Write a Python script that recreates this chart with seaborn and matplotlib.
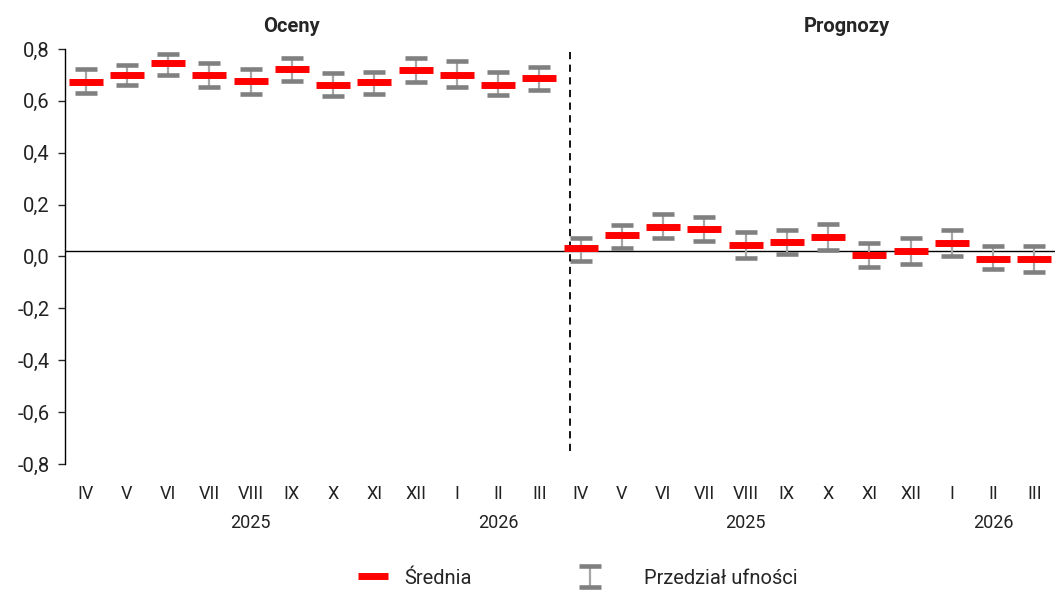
import numpy as np
import pandas as pd
import seaborn as sns
import matplotlib.pyplot as plt
import matplotlib.transforms as mtransforms
from matplotlib.lines import Line2D

months = ["IV", "V", "VI", "VII", "VIII", "IX", "X", "XI", "XII", "I", "II", "III"]
month_labels = months + months
years = ["2025", "2026", "2025", "2026"]
year_pos = [4, 10, 16, 22]

# oceny (estimates) - mean, lower, upper
oceny_mean = [0.671, 0.701, 0.744, 0.698, 0.675, 0.721, 0.663, 0.671, 0.717, 0.701, 0.663, 0.690]
oceny_low = [0.632, 0.663, 0.701, 0.652, 0.628, 0.675, 0.617, 0.625, 0.671, 0.652, 0.621, 0.640]
oceny_high = [0.721, 0.740, 0.782, 0.744, 0.721, 0.767, 0.709, 0.713, 0.767, 0.752, 0.713, 0.732]

# prognozy (forecasts)
progn_mean = [0.033, 0.082, 0.113, 0.105, 0.044, 0.055, 0.075, 0.005, 0.021, 0.052, -0.010, -0.010]
progn_low = [-0.018, 0.032, 0.071, 0.059, -0.006, 0.009, 0.025, -0.041, -0.029, 0.002, -0.048, -0.060]
progn_high = [0.071, 0.121, 0.163, 0.152, 0.094, 0.102, 0.125, 0.052, 0.071, 0.102, 0.040, 0.040]

sns.set_style("white")
plt.rcParams["font.family"] = ["Roboto", "DejaVu Sans"]

df = pd.DataFrame({
    "x": np.arange(24),
    "mean": oceny_mean + progn_mean,
    "low": oceny_low + progn_low,
    "high": oceny_high + progn_high,
})

fig = plt.figure(figsize=(10.56, 5.90), dpi=100)
ax = fig.add_axes([0.0616, 0.2136, 0.9375, 0.7034])

# confidence intervals
err = [df["mean"] - df["low"], df["high"] - df["mean"]]
eb = ax.errorbar(df["x"], df["mean"], yerr=err, fmt="none", ecolor="#808080",
                 elinewidth=1.6, capsize=8, capthick=3.3, zorder=2,
                 label="Przedział ufności")
for lc in eb[2]:
    lc.set_color("#a6a6a6")

# means
sns.scatterplot(data=df, x="x", y="mean", marker="_", s=24 ** 2, linewidth=5,
                color="#ff0000", ax=ax, zorder=3, legend=False)
for coll in ax.collections:
    coll.set_capstyle("butt")

ax.axhline(0.022, color="black", lw=1, zorder=1)
ax.vlines(11.75, -0.75, 0.79, colors="black", linestyles=(0, (4, 3)), lw=1.3)

ax.set_xlim(-0.5, 23.5)
ax.set_ylim(-0.8, 0.8)
yt = np.arange(-0.8, 0.81, 0.2)
ax.set_yticks(yt)
ax.set_yticklabels([f"{v:.1f}".replace(".", ",").replace("-0,0", "0,0") for v in yt])
ax.set_xticks(range(24))
ax.set_xticklabels(month_labels)
ax.tick_params(axis="x", length=0, pad=15, labelsize=13, labelcolor="#222222")
ax.tick_params(axis="y", left=True, length=5, width=1, pad=6, labelsize=14.5, labelcolor="#222222")
ax.set_xlabel("")
ax.set_ylabel("")

for s in ["top", "right", "bottom"]:
    ax.spines[s].set_visible(False)
ax.spines["left"].set_color("black")
ax.spines["left"].set_linewidth(1)

trans = mtransforms.blended_transform_factory(ax.transData, fig.transFigure)
for yr, p in zip(years, year_pos):
    ax.text(p, 1 - 523 / 590, yr, transform=trans, ha="center", va="center",
            fontsize=13, color="#222222")

ax.text(4.98, 1 - 26 / 590, "Oceny", transform=trans, ha="center", va="center",
        fontsize=14.5, fontweight="bold")
ax.text(18.45, 1 - 26 / 590, "Prognozy", transform=trans, ha="center", va="center",
        fontsize=14.5, fontweight="bold")

mean_handle = Line2D([], [], color="#ff0000", lw=5, solid_capstyle="butt")
leg1 = fig.legend([mean_handle], ["Średnia"], loc="center left",
                  bbox_to_anchor=(358 / 1056, 1 - 578 / 590), frameon=False,
                  fontsize=14.5, handlelength=1.5, handletextpad=0.8,
                  borderpad=0, borderaxespad=0)
leg2 = fig.legend([eb], ["Przedział ufności"], loc="center left",
                  bbox_to_anchor=(574 / 1056, 1 - 578 / 590), frameon=False,
                  fontsize=14.5, handlelength=1.6, handletextpad=1.9,
                  borderpad=0, borderaxespad=0)

plt.savefig("out.png", dpi=100)
